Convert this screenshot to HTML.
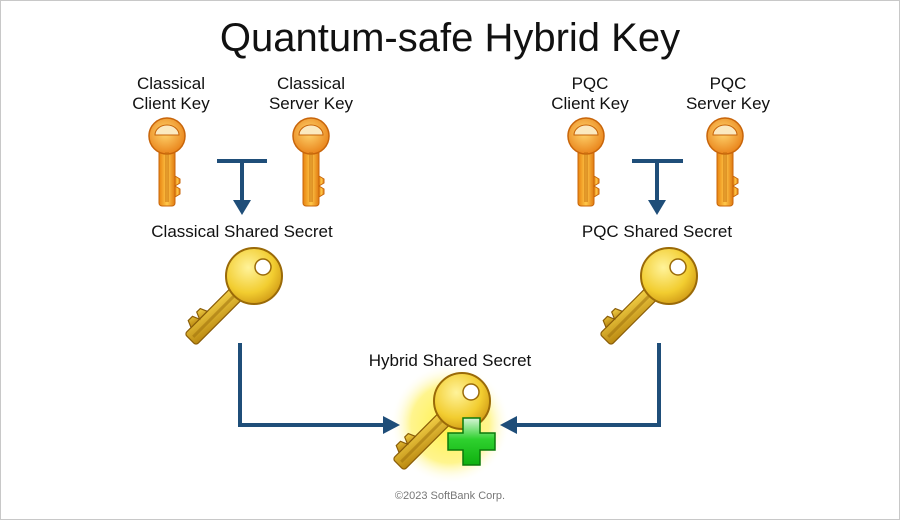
<!DOCTYPE html>
<html><head><meta charset="utf-8"><style>
html,body{margin:0;padding:0;background:#fff}
svg{display:block}
text{font-family:"Liberation Sans","DejaVu Sans",sans-serif;fill:#111}
</style></head><body>
<svg width="900" height="520" viewBox="0 0 900 520" xmlns="http://www.w3.org/2000/svg">
<defs>
<linearGradient id="og" x1="0" y1="0" x2="1" y2="0">
<stop offset="0" stop-color="#e8830f"/><stop offset="0.5" stop-color="#ffc84a"/><stop offset="1" stop-color="#e07a10"/>
</linearGradient>
<radialGradient id="oh" cx="0.45" cy="0.4" r="0.7">
<stop offset="0" stop-color="#ffd670"/><stop offset="1" stop-color="#e6780e"/>
</radialGradient>
<radialGradient id="yg" cx="0.4" cy="0.35" r="0.75">
<stop offset="0" stop-color="#fff39a"/><stop offset="0.6" stop-color="#f2cd30"/><stop offset="1" stop-color="#c98f10"/>
</radialGradient>
<linearGradient id="ys" x1="0" y1="0" x2="1" y2="1">
<stop offset="0" stop-color="#f6d44a"/><stop offset="1" stop-color="#b8860e"/>
</linearGradient>
<radialGradient id="glow" cx="0.5" cy="0.5" r="0.5">
<stop offset="0" stop-color="#fff040"/><stop offset="0.65" stop-color="#fff37a" stop-opacity="0.85"/><stop offset="1" stop-color="#fff" stop-opacity="0"/>
</radialGradient>
<linearGradient id="gp" x1="0" y1="0" x2="0" y2="1">
<stop offset="0" stop-color="#d8f5d8"/><stop offset="0.45" stop-color="#2fd12f"/><stop offset="1" stop-color="#0fb00f"/>
</linearGradient>
<g id="skey">
<rect x="-8" y="14" width="16" height="56" rx="3" fill="url(#og)" stroke="#c8650a" stroke-width="1"/>
<path d="M8 40 l5 3 v4 l-5 3 l5 3 v5 l-5 3z" fill="url(#og)" stroke="#c8650a" stroke-width="1"/>
<circle cx="0" cy="0" r="18" fill="url(#oh)" stroke="#c8650a" stroke-width="1.5"/>
<path d="M-12 -1 a12 10 0 0 1 24 0z" fill="#fbe9c0" stroke="#c8650a"/>
<rect x="-2" y="16" width="4" height="50" fill="#c8700e" opacity="0.5"/>
</g>
<g id="bkey">
<g transform="rotate(45)">
<rect x="-8" y="20" width="16" height="70" rx="3" fill="url(#ys)" stroke="#8a5d08" stroke-width="1.2"/>
<path d="M-8 58 l-7 3 v5 l7 3 l-7 3 v6 l7 3z" fill="url(#ys)" stroke="#8a5d08" stroke-width="1.2"/>
<rect x="-1.5" y="24" width="3" height="62" fill="#9a6b0a" opacity="0.5"/>
</g>
<circle cx="0" cy="0" r="28" fill="url(#yg)" stroke="#9a6a08" stroke-width="2"/>
<circle cx="9" cy="-9" r="8" fill="#fff" stroke="#9a6a08" stroke-width="1.5"/>
</g>
</defs>
<rect x="0.5" y="0.5" width="899" height="519" fill="#fff" stroke="#c8c8c8"/>
<text x="450" y="51" font-size="40" text-anchor="middle">Quantum-safe Hybrid Key</text>

<text x="171" y="89" font-size="17" text-anchor="middle">Classical</text>
<text x="171" y="109" font-size="17" text-anchor="middle">Client Key</text>
<text x="311" y="89" font-size="17" text-anchor="middle">Classical</text>
<text x="311" y="109" font-size="17" text-anchor="middle">Server Key</text>
<text x="590" y="89" font-size="17" text-anchor="middle">PQC</text>
<text x="590" y="109" font-size="17" text-anchor="middle">Client Key</text>
<text x="728" y="89" font-size="17" text-anchor="middle">PQC</text>
<text x="728" y="109" font-size="17" text-anchor="middle">Server Key</text>

<use href="#skey" transform="translate(167,136)"/>
<use href="#skey" transform="translate(311,136)"/>
<use href="#skey" transform="translate(586,136)"/>
<use href="#skey" transform="translate(725,136)"/>

<ellipse cx="450" cy="424" rx="60" ry="60" fill="url(#glow)"/>

<g fill="#1f4e79" stroke="none">
<rect x="217" y="159" width="50" height="4"/><rect x="240" y="159" width="4" height="42"/><path d="M233 200 h18 l-9 15z"/>
<rect x="632" y="159" width="51" height="4"/><rect x="655" y="159" width="4" height="42"/><path d="M648 200 h18 l-9 15z"/>
<rect x="238" y="343" width="4" height="84"/><rect x="238" y="423" width="146" height="4"/><path d="M383 416 v18 l17 -9z"/>
<rect x="657" y="343" width="4" height="84"/><rect x="517" y="423" width="144" height="4"/><path d="M517 416 v18 l-17 -9z"/>
</g>

<text x="242" y="237" font-size="17" text-anchor="middle">Classical Shared Secret</text>
<text x="657" y="237" font-size="17" text-anchor="middle">PQC Shared Secret</text>
<text x="450" y="366" font-size="17" text-anchor="middle">Hybrid Shared Secret</text>

<use href="#bkey" transform="translate(254,276)"/>
<use href="#bkey" transform="translate(669,276)"/>

<use href="#bkey" transform="translate(462,401)"/>
<path d="M463 418 h17 v15 h15 v17 h-15 v15 h-17 v-15 h-15 v-17 h15z" fill="url(#gp)" stroke="#0a7a0a" stroke-width="1.5"/>

<text x="450" y="499" font-size="11" text-anchor="middle" style="fill:#777">©2023 SoftBank Corp.</text>
</svg>
</body></html>
